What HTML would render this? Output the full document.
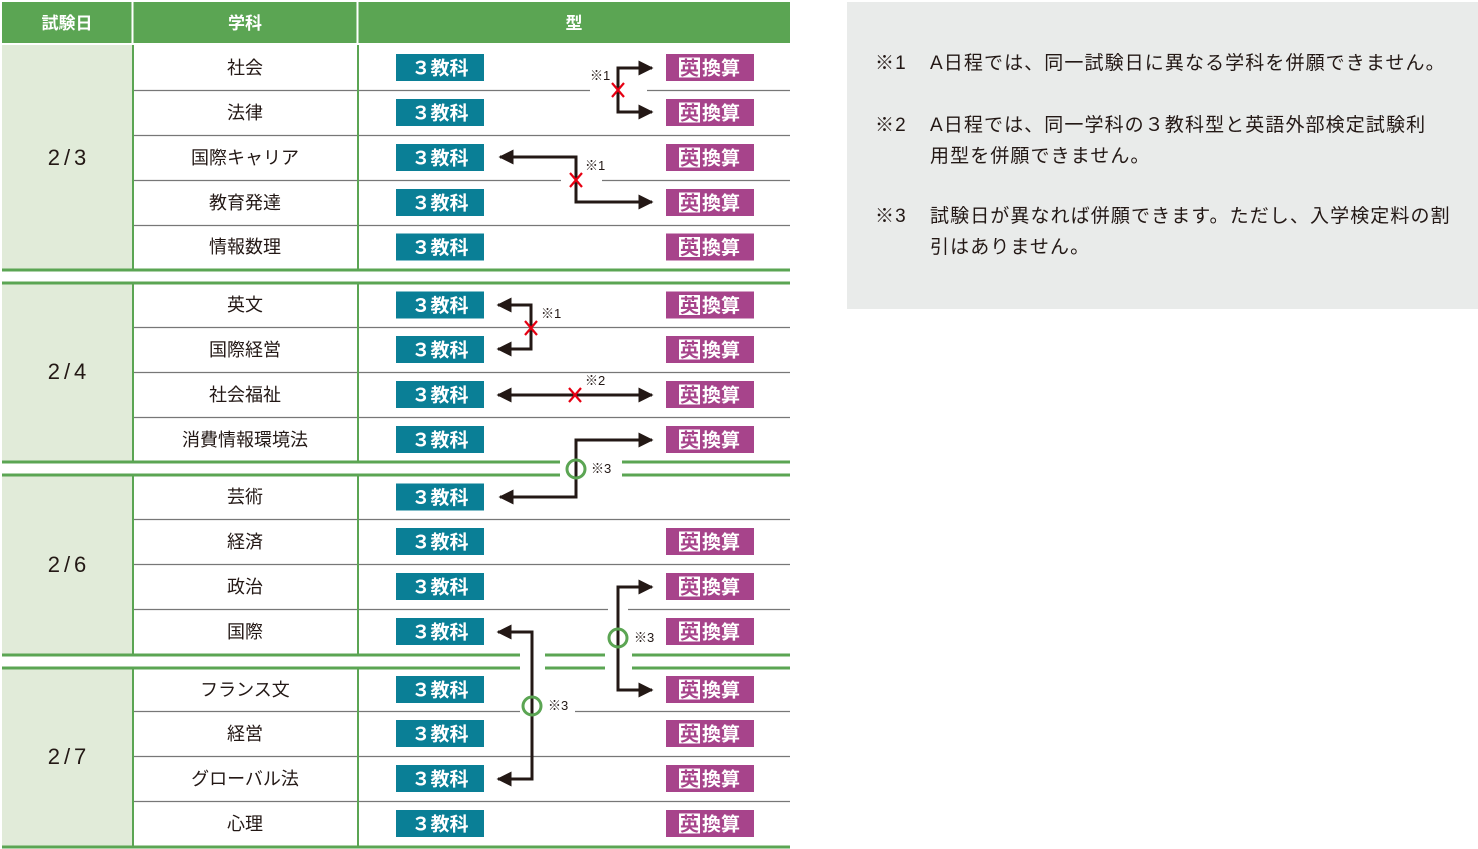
<!DOCTYPE html>
<html><head><meta charset="utf-8"><style>
html,body{margin:0;padding:0;background:#fff;width:1478px;height:849px;overflow:hidden}
svg{position:absolute;left:0;top:0}
.note{position:absolute;left:847px;top:2px;width:631px;height:307px;background:#e9ebea}
.n{position:absolute;font-family:"Liberation Sans","Noto Sans CJK JP",sans-serif;font-size:19px;color:#231815;line-height:31px;letter-spacing:1.1px;white-space:nowrap}
</style></head><body>
<div class="note"></div>
<div class="n" style="left:875px;top:48px">※1</div>
<div class="n" style="left:930px;top:48px">A日程では、同一試験日に異なる学科を併願できません。</div>
<div class="n" style="left:875px;top:110px">※2</div>
<div class="n" style="left:930px;top:110px">A日程では、同一学科の３教科型と英語外部検定試験利<br>用型を併願できません。</div>
<div class="n" style="left:875px;top:201px">※3</div>
<div class="n" style="left:930px;top:201px">試験日が異なれば併願できます。ただし、入学検定料の割<br>引はありません。</div>
<svg width="1478" height="849" xmlns="http://www.w3.org/2000/svg" font-family="Liberation Sans, Noto Sans CJK JP, sans-serif">
<defs>
<g id="b3"><rect x="0" y="-13.5" width="88" height="27" fill="#0a7f96"/><text x="44" y="7" fill="#fff" font-size="19" text-anchor="middle" font-weight="bold">３教科</text></g>
<g id="be"><rect x="0" y="-13.5" width="88" height="27" fill="#a7448b"/><rect x="13" y="-10" width="21" height="20" fill="#fff"/><text x="14" y="7" fill="#a7448b" font-size="19" font-weight="bold">英</text><text x="36" y="7" fill="#fff" font-size="19" font-weight="bold">換算</text></g>
<marker id="ar" viewBox="0 0 10 10" refX="9" refY="5" markerWidth="6" markerHeight="5" orient="auto-start-reverse" markerUnits="strokeWidth"><path d="M0,0L10,5L0,10z" fill="#231815"/></marker>
</defs>
<rect x="2" y="2" width="788" height="41" fill="#5ba553"/>
<rect x="131.5" y="2" width="2" height="41" fill="#fff"/>
<rect x="356.5" y="2" width="2" height="41" fill="#fff"/>
<g fill="#fff" font-size="17" font-weight="bold" text-anchor="middle"><text x="67" y="29">試験日</text><text x="245" y="29">学科</text><text x="574" y="29">型</text></g>
<rect x="2" y="45" width="130" height="224" fill="#e1ebd9"/>
<rect x="2" y="284" width="130" height="177" fill="#e1ebd9"/>
<rect x="2" y="476" width="130" height="178" fill="#e1ebd9"/>
<rect x="2" y="668" width="130" height="178" fill="#e1ebd9"/>
<g font-size="22" fill="#231815" text-anchor="middle" letter-spacing="4"><text x="69" y="165">2/3</text><text x="69" y="379">2/4</text><text x="69" y="572">2/6</text><text x="69" y="764">2/7</text></g>
<g stroke="#777" stroke-width="1.2">
<line x1="133" y1="90.5" x2="790" y2="90.5"/><line x1="133" y1="135.5" x2="790" y2="135.5"/><line x1="133" y1="180.5" x2="790" y2="180.5"/><line x1="133" y1="225.5" x2="790" y2="225.5"/>
<line x1="133" y1="327.5" x2="790" y2="327.5"/><line x1="133" y1="372.5" x2="790" y2="372.5"/><line x1="133" y1="417.5" x2="790" y2="417.5"/>
<line x1="133" y1="519.5" x2="790" y2="519.5"/><line x1="133" y1="564.5" x2="790" y2="564.5"/><line x1="133" y1="609.5" x2="790" y2="609.5"/>
<line x1="133" y1="711.5" x2="790" y2="711.5"/><line x1="133" y1="756.5" x2="790" y2="756.5"/><line x1="133" y1="801.5" x2="790" y2="801.5"/>
</g>
<g fill="#5ba553"><rect x="132" y="45" width="2" height="224"/><rect x="357" y="45" width="2" height="224"/>
<rect x="132" y="284" width="2" height="177"/><rect x="357" y="284" width="2" height="177"/>
<rect x="132" y="476" width="2" height="178"/><rect x="357" y="476" width="2" height="178"/>
<rect x="132" y="668" width="2" height="178"/><rect x="357" y="668" width="2" height="178"/>
<rect x="2" y="268.5" width="788" height="3"/><rect x="2" y="281.5" width="788" height="3"/>
<rect x="2" y="460.5" width="558" height="3"/><rect x="622" y="460.5" width="168" height="3"/>
<rect x="2" y="473.5" width="558" height="3"/><rect x="622" y="473.5" width="168" height="3"/>
<rect x="2" y="653.5" width="518" height="3"/><rect x="545" y="653.5" width="60" height="3"/><rect x="632" y="653.5" width="158" height="3"/>
<rect x="2" y="666.5" width="518" height="3"/><rect x="545" y="666.5" width="60" height="3"/><rect x="632" y="666.5" width="158" height="3"/>
<rect x="2" y="845.5" width="788" height="3"/></g>
<g fill="#fff"><rect x="590" y="88" width="57" height="5"/><rect x="561" y="178" width="41" height="5"/><rect x="608" y="607" width="20" height="5"/><rect x="520" y="709" width="55" height="5"/></g>
<g font-size="18" fill="#231815" text-anchor="middle">
<text x="245" y="74">社会</text><text x="245" y="119">法律</text><text x="245" y="164">国際キャリア</text><text x="245" y="209">教育発達</text><text x="245" y="253">情報数理</text>
<text x="245" y="311">英文</text><text x="245" y="356">国際経営</text><text x="245" y="401">社会福祉</text><text x="245" y="446">消費情報環境法</text>
<text x="245" y="503">芸術</text><text x="245" y="548">経済</text><text x="245" y="593">政治</text><text x="245" y="638">国際</text>
<text x="245" y="696">フランス文</text><text x="245" y="740">経営</text><text x="245" y="785">グローバル法</text><text x="245" y="830">心理</text>
</g>
<g>
<use href="#b3" x="396" y="67.5"/><use href="#b3" x="396" y="112.5"/><use href="#b3" x="396" y="157.5"/><use href="#b3" x="396" y="202.5"/><use href="#b3" x="396" y="247"/>
<use href="#b3" x="396" y="305"/><use href="#b3" x="396" y="349.5"/><use href="#b3" x="396" y="394.5"/><use href="#b3" x="396" y="439.5"/>
<use href="#b3" x="396" y="497"/><use href="#b3" x="396" y="541.5"/><use href="#b3" x="396" y="586.5"/><use href="#b3" x="396" y="631.5"/>
<use href="#b3" x="396" y="689.5"/><use href="#b3" x="396" y="733.5"/><use href="#b3" x="396" y="778.5"/><use href="#b3" x="396" y="823.5"/>
<use href="#be" x="666" y="67.5"/><use href="#be" x="666" y="112.5"/><use href="#be" x="666" y="157.5"/><use href="#be" x="666" y="202.5"/><use href="#be" x="666" y="247"/>
<use href="#be" x="666" y="305"/><use href="#be" x="666" y="349.5"/><use href="#be" x="666" y="394.5"/><use href="#be" x="666" y="439.5"/>
<use href="#be" x="666" y="541.5"/><use href="#be" x="666" y="586.5"/><use href="#be" x="666" y="631.5"/>
<use href="#be" x="666" y="689.5"/><use href="#be" x="666" y="733.5"/><use href="#be" x="666" y="778.5"/><use href="#be" x="666" y="823.5"/>
</g>
<g stroke="#231815" stroke-width="3" fill="none" stroke-linejoin="miter">
<path d="M652,68 H618 V112 H652" marker-start="url(#ar)" marker-end="url(#ar)"/>
<path d="M500,157 H576 V202 H652" marker-start="url(#ar)" marker-end="url(#ar)"/>
<path d="M498,305 H531 V349 H498" marker-start="url(#ar)" marker-end="url(#ar)"/>
<path d="M498,395 H652" marker-start="url(#ar)" marker-end="url(#ar)"/>
<path d="M652,440 H576 V497 H500" marker-start="url(#ar)" marker-end="url(#ar)"/>
<path d="M652,587 H618 V690 H652" marker-start="url(#ar)" marker-end="url(#ar)"/>
<path d="M498,632 H532 V779 H498" marker-start="url(#ar)" marker-end="url(#ar)"/>
</g>
<g stroke="#e60012" stroke-width="2.2">
<path d="M612,83 L624,97 M624,83 L612,97"/>
<path d="M570,173 L582,187 M582,173 L570,187"/>
<path d="M525,321 L537,335 M537,321 L525,335"/>
<path d="M569,388 L581,402 M581,388 L569,402"/>
</g>
<g stroke="#5ba553" stroke-width="3" fill="none">
<circle cx="576" cy="469" r="9"/><circle cx="618" cy="638" r="9"/><circle cx="532" cy="706" r="9"/>
</g>
<g font-size="13" fill="#231815">
<text x="590" y="80">※1</text><text x="585" y="170">※1</text><text x="541" y="318">※1</text><text x="585" y="385">※2</text>
<text x="591" y="473">※3</text><text x="634" y="642">※3</text><text x="548" y="710">※3</text>
</g>
</svg>
</body></html>
